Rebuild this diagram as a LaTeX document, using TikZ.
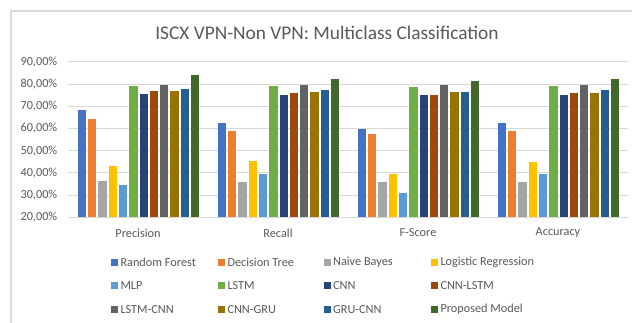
\documentclass[tikz,border=0pt]{standalone}
\usepackage{tikz}
\usepackage{fontspec}
\usepackage{xcolor}
\usetikzlibrary{positioning}
\setmainfont{Carlito}
\definecolor{cRF}{HTML}{4472C4}
\definecolor{cDT}{HTML}{ED7D31}
\definecolor{cNB}{HTML}{A5A5A5}
\definecolor{cLR}{HTML}{FFC000}
\definecolor{cMLP}{HTML}{5B9BD5}
\definecolor{cLSTM}{HTML}{70AD47}
\definecolor{cCNN}{HTML}{264478}
\definecolor{cCL}{HTML}{9E480E}
\definecolor{cLC}{HTML}{636363}
\definecolor{cCG}{HTML}{997300}
\definecolor{cGC}{HTML}{255E91}
\definecolor{cPM}{HTML}{43682B}
\definecolor{axisgray}{HTML}{595959}
\definecolor{gridgray}{HTML}{D9D9D9}
% group, bar, value, colour
\newcommand{\cBar}[4]{\fill[#4] ({77.7+140*#1+10.3*#2},217.3) rectangle ++(8.3,{-(#3-20)*2.22});}
\tikzset{
  ticklabel/.style={anchor=east, inner sep=0pt, text=axisgray, font=\fontsize{9.2}{11}\selectfont},
  catlabel/.style={inner sep=0pt, text=axisgray, font=\fontsize{9.2}{11}\selectfont},
  legmark/.style={minimum size=5.25pt, inner sep=0pt, anchor=west},
  legtext/.style={inner sep=0pt, anchor=west, text=axisgray, font=\fontsize{9.2}{11}\selectfont},
  gridline/.style={draw=gridgray, line width=0.75pt}
}

\begin{document}
\begin{tikzpicture}[x=0.75pt,y=-0.75pt]
\useasboundingbox (0,0) rectangle (632,322);
\fill[white] (0,0) rectangle (632,322);
\draw[gridgray, line width=1.5pt] (10.5,330) -- (10.5,10.5) -- (640,10.5);
\node[text=axisgray, inner sep=0pt, font=\fontsize{14.5}{17}\selectfont] (title) at (327,33) {ISCX VPN-Non VPN: Multiclass Classification};
% grid and y axis
\draw[gridline] (68,61.9) -- (628,61.9);
\draw[gridline] (68,84.1) -- (628,84.1);
\draw[gridline] (68,106.3) -- (628,106.3);
\draw[gridline] (68,128.5) -- (628,128.5);
\draw[gridline] (68,150.7) -- (628,150.7);
\draw[gridline] (68,172.9) -- (628,172.9);
\draw[gridline] (68,195.1) -- (628,195.1);
\draw[gridline] (68,217.3) -- (628,217.3);
\node[ticklabel] (y90) at (57.5,61.9) {90,00\%};
\node[ticklabel] (y80) at (57.5,84.1) {80,00\%};
\node[ticklabel] (y70) at (57.5,106.3) {70,00\%};
\node[ticklabel] (y60) at (57.5,128.5) {60,00\%};
\node[ticklabel] (y50) at (57.5,150.7) {50,00\%};
\node[ticklabel] (y40) at (57.5,172.9) {40,00\%};
\node[ticklabel] (y30) at (57.5,195.1) {30,00\%};
\node[ticklabel] (y20) at (57.5,217.3) {20,00\%};
% bars: Precision
\cBar{0}{0}{68.3}{cRF}
\cBar{0}{1}{64.1}{cDT}
\cBar{0}{2}{36.4}{cNB}
\cBar{0}{3}{43.2}{cLR}
\cBar{0}{4}{34.5}{cMLP}
\cBar{0}{5}{79.0}{cLSTM}
\cBar{0}{6}{75.7}{cCNN}
\cBar{0}{7}{76.8}{cCL}
\cBar{0}{8}{79.6}{cLC}
\cBar{0}{9}{76.8}{cCG}
\cBar{0}{10}{77.8}{cGC}
\cBar{0}{11}{84.1}{cPM}
% Recall
\cBar{1}{0}{62.6}{cRF}
\cBar{1}{1}{59.0}{cDT}
\cBar{1}{2}{35.9}{cNB}
\cBar{1}{3}{45.2}{cLR}
\cBar{1}{4}{39.5}{cMLP}
\cBar{1}{5}{79.0}{cLSTM}
\cBar{1}{6}{75.0}{cCNN}
\cBar{1}{7}{76.0}{cCL}
\cBar{1}{8}{79.6}{cLC}
\cBar{1}{9}{76.3}{cCG}
\cBar{1}{10}{77.3}{cGC}
\cBar{1}{11}{82.2}{cPM}
% F-Score
\cBar{2}{0}{59.8}{cRF}
\cBar{2}{1}{57.5}{cDT}
\cBar{2}{2}{35.8}{cNB}
\cBar{2}{3}{39.5}{cLR}
\cBar{2}{4}{31.0}{cMLP}
\cBar{2}{5}{78.6}{cLSTM}
\cBar{2}{6}{75.0}{cCNN}
\cBar{2}{7}{75.0}{cCL}
\cBar{2}{8}{79.6}{cLC}
\cBar{2}{9}{76.4}{cCG}
\cBar{2}{10}{76.4}{cGC}
\cBar{2}{11}{81.4}{cPM}
% Accuracy
\cBar{3}{0}{62.6}{cRF}
\cBar{3}{1}{59.0}{cDT}
\cBar{3}{2}{35.8}{cNB}
\cBar{3}{3}{45.0}{cLR}
\cBar{3}{4}{39.5}{cMLP}
\cBar{3}{5}{79.0}{cLSTM}
\cBar{3}{6}{75.0}{cCNN}
\cBar{3}{7}{75.9}{cCL}
\cBar{3}{8}{79.6}{cLC}
\cBar{3}{9}{76.2}{cCG}
\cBar{3}{10}{77.3}{cGC}
\cBar{3}{11}{82.2}{cPM}
% categories
\node[catlabel] (cPrec) at (138,233) {Precision};
\node[catlabel] (cRec) at (278,233) {Recall};
\node[catlabel] (cF) at (418,233) {F-Score};
\node[catlabel] (cAcc) at (558,233) {Accuracy};
% legend
\node[legmark, fill=cRF] (mRF) at (110.7,262.3) {};
\node[legtext, right=1.5pt of mRF] (tRF) {Random Forest};
\node[legmark, fill=cDT] (mDT) at (217.7,262.3) {};
\node[legtext, right=1.5pt of mDT] (tDT) {Decision Tree};
\node[legmark, fill=cNB] (mNB) at (323.3,262.3) {};
\node[legtext, right=1.5pt of mNB] (tNB) {Naive Bayes};
\node[legmark, fill=cLR] (mLR) at (430.7,262.3) {};
\node[legtext, right=1.5pt of mLR] (tLR) {Logistic Regression};
\node[legmark, fill=cMLP] (mMLP) at (110.7,285.8) {};
\node[legtext, right=1.5pt of mMLP] (tMLP) {MLP};
\node[legmark, fill=cLSTM] (mLSTM) at (217.7,285.8) {};
\node[legtext, right=1.5pt of mLSTM] (tLSTM) {LSTM};
\node[legmark, fill=cCNN] (mCNN) at (323.3,285.8) {};
\node[legtext, right=1.5pt of mCNN] (tCNN) {CNN};
\node[legmark, fill=cCL] (mCL) at (430.7,285.8) {};
\node[legtext, right=1.5pt of mCL] (tCL) {CNN-LSTM};
\node[legmark, fill=cLC] (mLC) at (110.7,309.3) {};
\node[legtext, right=1.5pt of mLC] (tLC) {LSTM-CNN};
\node[legmark, fill=cCG] (mCG) at (217.7,309.3) {};
\node[legtext, right=1.5pt of mCG] (tCG) {CNN-GRU};
\node[legmark, fill=cGC] (mGC) at (323.3,309.3) {};
\node[legtext, right=1.5pt of mGC] (tGC) {GRU-CNN};
\node[legmark, fill=cPM] (mPM) at (430.7,309.3) {};
\node[legtext, right=1.5pt of mPM] (tPM) {Proposed Model};
\end{tikzpicture}
\end{document}
